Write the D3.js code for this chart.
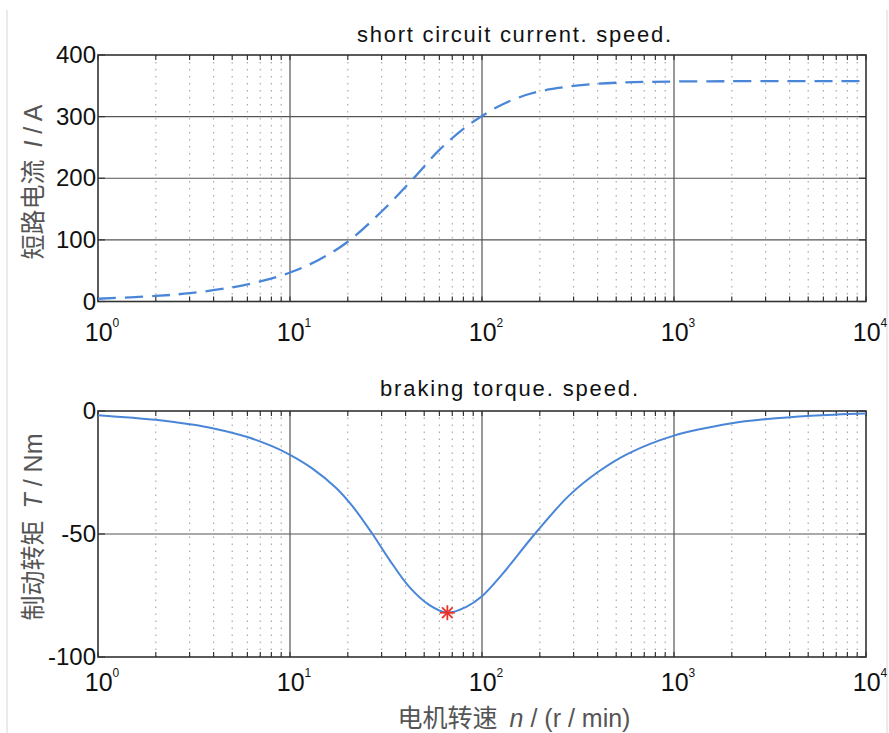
<!DOCTYPE html>
<html>
  <head>
    <meta charset="utf-8" />
    <script src="https://cdn.jsdelivr.net/npm/d3@7"></script>
    <style>
        body { margin: 0; background: #fff; }
        text { font-family: Arial, "Liberation Sans", sans-serif; fill: #111; }
        .lbl { font-family: "Noto Sans CJK SC", sans-serif; fill: #555; }
        .lat { font-family: Arial, "Liberation Sans", sans-serif; fill: #555; }
        .major { stroke: #555; stroke-width: 1.2; }
        .minor { stroke: #aaa; stroke-width: 1.2; stroke-dasharray: 1.5,5.5; }
        .frame { fill: none; stroke: #333; stroke-width: 1.6; }
    </style>
  </head>
  <body>
    <svg width="889" height="733"></svg>

    <script type="text/javascript">
        // speed n (r/min) and short circuit current I (A)
        var currentSpeed = [1, 2, 3, 5, 7, 10, 14, 20, 30, 44, 60, 80, 100, 130, 180, 250, 350, 500, 1000, 10000];
        var currentAmps  = [4.5, 9, 13.5, 23, 32.5, 47, 67, 97, 146, 200, 246, 280, 301, 321, 337.5, 346.5, 352, 355, 357, 357.5];

        // speed n (r/min) and braking torque T (Nm)
        var torqueSpeed = [1, 2, 3, 4, 6, 8, 10, 13.1, 17.4, 21.2, 26.9, 32.9, 41.8, 53, 66, 82, 100, 127, 186, 283, 405, 581, 1000, 2000, 2980, 5200, 10000];
        var torqueNm    = [-1.7, -3.6, -5.4, -7.1, -10.6, -14.2, -17.8, -23.4, -31.3, -38.8, -50, -60.4, -71.5, -78.8, -82, -79.8, -75.3, -66.5, -50.5, -34.5, -24.6, -17.2, -10, -5, -3.35, -1.9, -1];

        var peak = {n: 66, t: -82};

        var decades = [1, 10, 100, 1000, 10000];
        var currentTicks = [0, 100, 200, 300, 400];
        var torqueTicks = [-100, -50, 0];

        var svg = d3.select("svg");

        // faint page border lines
        svg.append("line").attr("x1",7).attr("x2",7).attr("y1",10).attr("y2",733)
            .attr("stroke","#e4e4e4").attr("stroke-width",1.5);
        svg.append("line").attr("x1",887).attr("x2",887).attr("y1",10).attr("y2",733)
            .attr("stroke","#e4e4e4").attr("stroke-width",1.5);

        var x = d3.scaleLog().domain([1, 10000]).range([98, 866]);

        var minors = [];
        decades.slice(0, 4).forEach(function(d) {
            for (var k = 2; k <= 9; k++) minors.push(d * k);
        });

        function drawPanel(y, yTicks, title, titleX, titleY, titleW, labelDy) {
            var g = svg.append("g");
            var y0 = y.range()[0], y1 = y.range()[1];

            g.selectAll("line.minor").data(minors).enter().append("line")
                .attr("class","minor")
                .attr("x1",function(d){ return x(d); }).attr("x2",function(d){ return x(d); })
                .attr("y1",y0).attr("y2",y1);

            g.selectAll("line.vmaj").data(decades.slice(1, 4)).enter().append("line")
                .attr("class","major")
                .attr("x1",function(d){ return x(d); }).attr("x2",function(d){ return x(d); })
                .attr("y1",y0).attr("y2",y1);

            g.selectAll("line.hmaj").data(yTicks.slice(1, yTicks.length - 1)).enter().append("line")
                .attr("class","major")
                .attr("x1",x.range()[0]).attr("x2",x.range()[1])
                .attr("y1",function(d){ return y(d); }).attr("y2",function(d){ return y(d); });

            // little inward ticks on all four edges
            var allTicks = minors.concat(decades);
            [y0, y1].forEach(function(edge, i) {
                g.selectAll(null).data(allTicks).enter().append("line")
                    .attr("x1",function(d){ return x(d); }).attr("x2",function(d){ return x(d); })
                    .attr("y1",edge).attr("y2",edge + (i == 0 ? -5 : 5))
                    .attr("stroke","#333").attr("stroke-width",1.2);
            });
            [x.range()[0], x.range()[1]].forEach(function(edge, i) {
                g.selectAll(null).data(yTicks).enter().append("line")
                    .attr("x1",edge).attr("x2",edge + (i == 0 ? 7 : -7))
                    .attr("y1",function(d){ return y(d); }).attr("y2",function(d){ return y(d); })
                    .attr("stroke","#333").attr("stroke-width",1.2);
            });

            g.append("rect").attr("class","frame")
                .attr("x",x.range()[0]).attr("y",y1)
                .attr("width",x.range()[1] - x.range()[0]).attr("height",y0 - y1);

            // y tick labels
            g.selectAll("text.yt").data(yTicks).enter().append("text")
                .attr("x",96).attr("y",function(d){ return y(d) + 8; })
                .attr("text-anchor","end").attr("font-size",24)
                .text(function(d){ return d; });

            // x tick labels 10^k
            g.selectAll("text.xt").data(decades).enter().append("text")
                .attr("x",function(d){ return x(d) + 4; }).attr("y",y0 + labelDy)
                .attr("text-anchor","middle").attr("font-size",25)
                .each(function(d) {
                    var t = d3.select(this);
                    t.append("tspan").text("10");
                    t.append("tspan").attr("dy",-14).attr("font-size",12)
                        .text(Math.round(Math.log10(d)));
                });

            g.append("text").attr("x",titleX).attr("y",titleY)
                .attr("text-anchor","middle").attr("font-size",22)
                .attr("textLength",titleW).attr("lengthAdjust","spacing")
                .text(title);
            return g;
        }

        var smooth = d3.curveCatmullRom.alpha(0.5);

        // top panel: current
        var yI = d3.scaleLinear().domain([0, 400]).range([301.5, 55]);
        drawPanel(yI, currentTicks, "short circuit current. speed.", 514, 42, 314, 39);

        var curData = currentSpeed.map(function(n, i){ return [n, currentAmps[i]]; });
        svg.append("path").datum(curData)
            .attr("fill","none").attr("stroke","#4a86d8").attr("stroke-width",2.3)
            .attr("stroke-dasharray","18,9")
            .attr("d", d3.line().curve(smooth)
                .x(function(d){ return x(d[0]); }).y(function(d){ return yI(d[1]); }));

        // bottom panel: torque
        var yT = d3.scaleLinear().domain([-100, 0]).range([657, 411]);
        drawPanel(yT, torqueTicks, "braking torque. speed.", 509, 396, 258, 34);

        var torData = torqueSpeed.map(function(n, i){ return [n, torqueNm[i]]; });
        svg.append("path").datum(torData)
            .attr("fill","none").attr("stroke","#4a86d8").attr("stroke-width",2)
            .attr("d", d3.line().curve(smooth)
                .x(function(d){ return x(d[0]); }).y(function(d){ return yT(d[1]); }));

        // asterisk marker at the torque peak
        var px = x(peak.n), py = yT(peak.t), r = 7.5;
        var star = svg.append("g").attr("transform","translate(" + px + "," + py + ")");
        [0, 45, 90, 135].forEach(function(a) {
            star.append("line").attr("x1",-r).attr("x2",r).attr("y1",0).attr("y2",0)
                .attr("transform","rotate(" + a + ")")
                .attr("stroke","#e8322a").attr("stroke-width",1.8);
        });

        // axis labels: chinese part, italic symbol, unit
        function axisLabel(tx, ty, rot, zh, sym, unit) {
            var t = svg.append("text").attr("font-size",25)
                .attr("text-anchor","middle")
                .attr("transform","translate(" + tx + "," + ty + ") rotate(" + rot + ")");
            t.append("tspan").attr("class","lbl").text(zh);
            t.append("tspan").attr("class","lat").attr("dx",12).attr("font-style","italic").text(sym);
            t.append("tspan").attr("class","lat").text(" / " + unit);
        }
        axisLabel(42, 182, -90, "短路电流", "I", "A");
        axisLabel(42, 527, -90, "制动转矩", "T", "Nm");
        axisLabel(514, 727, 0, "电机转速", "n", "(r / min)");
    </script>
  </body>
</html>
